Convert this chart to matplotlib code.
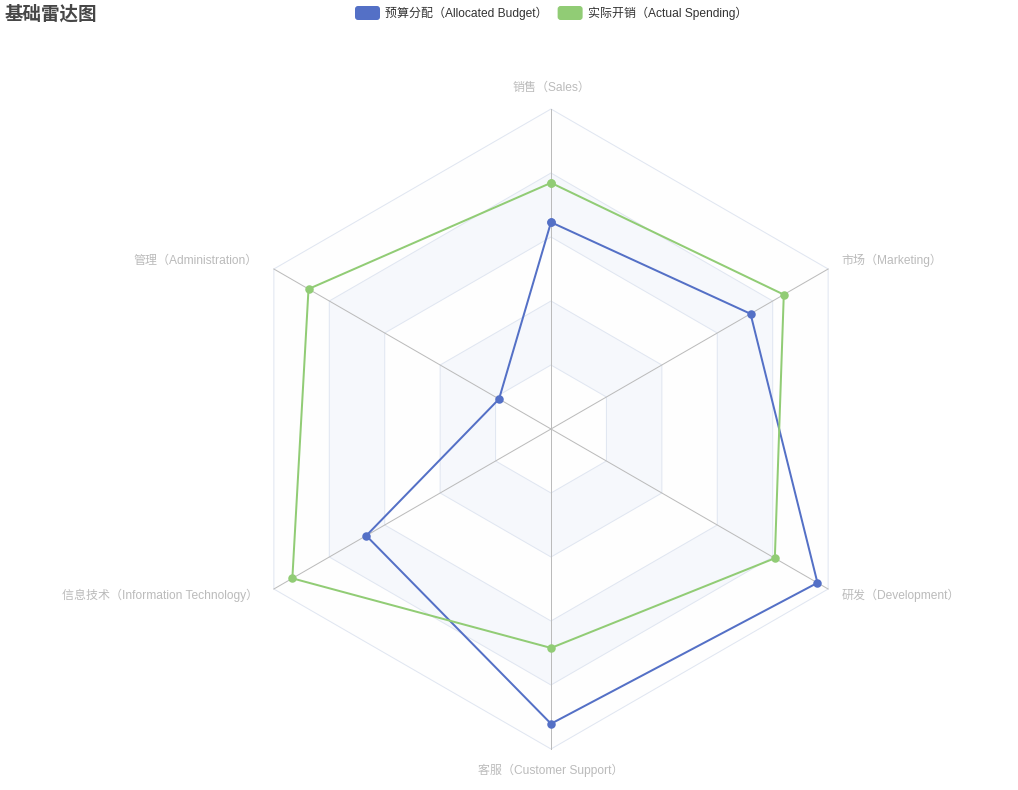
import numpy as np
import matplotlib
matplotlib.use('Agg')
import matplotlib.pyplot as plt
from matplotlib.patches import Polygon, FancyBboxPatch

# data
indicators = ['销售（Sales）', '管理（Administration）', '信息技术（Information Technology）',
              '客服（Customer Support）', '研发（Development）', '市场（Marketing）']
max_values = [6500, 16000, 30000, 38000, 52000, 25000]
budget = [4200, 3000, 20000, 35000, 50000, 18000]
spending = [5000, 14000, 28000, 26000, 42000, 21000]
series_names = ['预算分配（Allocated Budget）', '实际开销（Actual Spending）']
series_colors = ['#5470c6', '#91cc75']

fonts = ['Liberation Sans', 'Noto Sans CJK SC', 'DejaVu Sans']
plt.rcParams['font.family'] = fonts
PX = 0.72  # points per pixel at dpi 100

fig = plt.figure(figsize=(10.18, 7.9), dpi=100)
ax = fig.add_axes([0, 0, 1, 1])
ax.set_xlim(0, 1018)
ax.set_ylim(790, 0)
ax.axis('off')

cx, cy, R = 551, 429, 320
n = len(indicators)
angles = np.deg2rad(90 + 360 / n * np.arange(n))


def pts(fracs):
    fracs = np.asarray(fracs, dtype=float)
    return np.column_stack([cx + R * fracs * np.cos(angles), cy - R * fracs * np.sin(angles)])


# split areas, outer to inner
area_colors = ['#fefefe', '#f6f8fc']
levels = 5
for i in range(levels, 0, -1):
    ax.add_patch(Polygon(pts(np.full(n, i / levels)), closed=True,
                         facecolor=area_colors[(i - 1) % 2], edgecolor='none', zorder=1))
for i in range(1, levels + 1):
    ax.add_patch(Polygon(pts(np.full(n, i / levels)), closed=True, facecolor='none',
                         edgecolor='#E0E6F1', lw=1 * PX, zorder=2))

# axis lines
outer = pts(np.ones(n))
for x, y in outer:
    ax.plot([cx, x], [cy, y], color='#bbbbbb', lw=1 * PX, zorder=3)

# indicator names
gap = 15
for a, name, (x, y) in zip(angles, indicators, outer):
    lx, ly = x + gap * np.cos(a), y - gap * np.sin(a)
    c = np.cos(a)
    ha = 'center' if abs(c) < 0.01 else ('left' if c > 0 else 'right')
    s = np.sin(a)
    if abs(c) < 0.01:
        va = 'bottom' if s > 0 else 'top'
    else:
        va = 'center'
        ly -= 1
        if c < 0:
            lx -= 3
    ax.text(lx, ly, name, ha=ha, va=va, fontsize=12 * PX, color='#bbbbbb')

# series
for vals, col in zip([budget, spending], series_colors):
    p = pts(np.array(vals) / np.array(max_values))
    p = np.vstack([p, p[:1]])
    ax.plot(p[:, 0], p[:, 1], color=col, lw=2 * PX, zorder=5,
            marker='o', markersize=8.5 * PX, markeredgewidth=0, solid_joinstyle='miter')

# title
ax.text(5, 14, '基础雷达图', ha='left', va='center', fontsize=18.5 * PX,
        fontweight='bold', color='#464646')

# legend
lx = 355
for name, col in zip(series_names, series_colors):
    ax.add_patch(FancyBboxPatch((lx, 6), 25, 14, boxstyle='round,pad=0,rounding_size=3',
                                facecolor=col, edgecolor='none', zorder=6))
    t = ax.text(lx + 30, 13, name, ha='left', va='center', fontsize=12 * PX, color='#333333')
    fig.canvas.draw()
    bb = t.get_window_extent()
    lx = bb.x1 + 10

fig.savefig('out.png', dpi=100)
